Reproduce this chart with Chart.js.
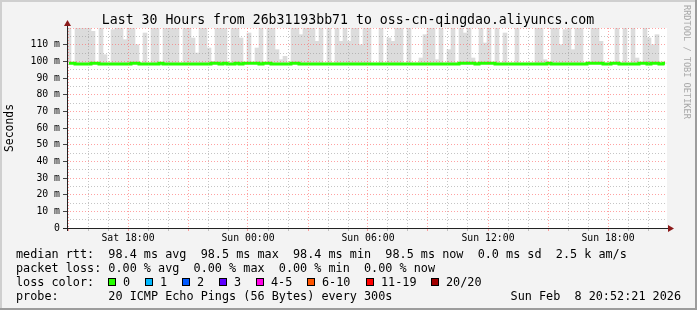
<!DOCTYPE html>
<html>
<head>
<meta charset="utf-8">
<script src="https://cdn.jsdelivr.net/npm/chart.js@4.4.1/dist/chart.umd.min.js"></script>
<style>
html, body { margin: 0; padding: 0; background: #f3f3f3; }
#wrap { width: 697px; height: 310px; }
</style>
</head>
<body>
<div id="wrap"><canvas id="graph" width="697" height="310"></canvas></div>
<script>
// Data
// one sample column per 12 minutes, first column starts Sat 14:57
const START_HOUR = 14.95;
const STEP_HOUR = 0.2;

// top of the smoke for each column (ms), 120 = above the visible range
const smokeTop = [
    120, 99, 120, 120, 120, 120, 118, 99, 120, 104, 99, 119, 120, 120, 113, 120, 120, 110, 99, 117, 99, 120, 120, 99, 120,
    120, 120, 120, 99, 120, 120, 114, 105, 120, 120, 108, 100, 120, 120, 120, 99, 120, 120, 114, 99, 117, 99, 108, 120, 99,
    120, 120, 107, 101, 103, 99, 120, 120, 116, 120, 120, 120, 112, 120, 99, 120, 99, 120, 112, 120, 112, 120, 120, 110, 120,
    120, 99, 99, 120, 99, 114, 112, 120, 120, 99, 120, 99, 99, 102, 116, 120, 120, 101, 120, 99, 107, 120, 99, 120, 117,
    120, 102, 99, 120, 111, 120, 99, 120, 99, 117, 99, 99, 120, 99, 99, 99, 99, 120, 120, 101, 99, 120, 120, 110, 119,
    120, 107, 120, 120, 99, 99, 120, 120, 112, 99, 99, 99, 120, 99, 120, 99, 120, 102, 99, 120, 114, 110, 116, 99, 99
];

// median rtt for each column (ms)
const medianRtt = [
    98.9, 98.9, 98.4, 98.4, 98.4, 98.4, 98.9, 98.9, 98.4, 98.4, 98.4, 98.4, 98.4, 98.4, 98.4, 98.4, 98.9, 98.9, 98.4, 98.4, 98.4, 98.4, 98.4, 98.9, 98.4,
    98.4, 98.4, 98.4, 98.4, 98.4, 98.4, 98.4, 98.4, 98.4, 98.4, 98.4, 98.9, 98.9, 98.4, 98.9, 98.4, 98.4, 98.9, 98.4, 98.9, 98.9, 98.9, 98.9, 98.4, 98.9,
    98.9, 98.4, 98.4, 98.4, 98.4, 98.4, 98.9, 98.9, 98.4, 98.4, 98.4, 98.4, 98.4, 98.4, 98.4, 98.4, 98.4, 98.4, 98.4, 98.4, 98.4, 98.4, 98.4, 98.4, 98.4,
    98.4, 98.4, 98.4, 98.4, 98.4, 98.4, 98.4, 98.4, 98.4, 98.4, 98.4, 98.4, 98.4, 98.4, 98.4, 98.4, 98.4, 98.4, 98.4, 98.4, 98.4, 98.4, 98.4, 98.9, 98.9,
    98.9, 98.9, 98.4, 98.9, 98.9, 98.9, 98.9, 98.4, 98.4, 98.4, 98.4, 98.4, 98.4, 98.4, 98.4, 98.4, 98.4, 98.4, 98.4, 98.4, 98.9, 98.4, 98.4, 98.4, 98.4,
    98.4, 98.4, 98.4, 98.4, 98.4, 98.9, 98.9, 98.9, 98.9, 98.4, 98.4, 98.9, 98.9, 98.4, 98.4, 98.4, 98.4, 98.4, 98.9, 98.9, 98.4, 98.9, 98.9, 98.4, 98.9
];

// x axis: hour grid (hours since Sat 00:00) and labelled hours
const xGridHours = [15, 16, 17, 18, 19, 20, 21, 22, 23, 24, 25, 26, 27, 28, 29, 30,
    31, 32, 33, 34, 35, 36, 37, 38, 39, 40, 41, 42, 43, 44];
const xLabelHours = [18, 24, 30, 36, 42];
const xLabels = ['Sat 18:00', 'Sun 00:00', 'Sun 06:00', 'Sun 12:00', 'Sun 18:00'];

const titleText = 'Last 30 Hours from 26b31193bb71 to oss-cn-qingdao.aliyuncs.com';
const legendLines = [
    'median rtt:  98.4 ms avg  98.5 ms max  98.4 ms min  98.5 ms now  0.0 ms sd  2.5 k am/s',
    'packet loss: 0.00 % avg  0.00 % max  0.00 % min  0.00 % now',
    'loss color:',
    'probe:       20 ICMP Echo Pings (56 Bytes) every 300s'
];
const lossLabels = ['0', '1', '2', '3', '4-5', '6-10', '11-19', '20/20'];
const lossColors = ['#26ff00', '#00b8ff', '#0059ff', '#5e00ff', '#ff00e5', '#ff5500', '#ff0000', '#a10000'];
const lossBoxX = [108, 145, 182, 219, 256, 307, 366, 431];
const dateText = 'Sun Feb  8 20:52:21 2026';

const MONO = '"DejaVu Sans Mono", monospace';

// build datasets
const colTime = (i) => START_HOUR + STEP_HOUR * i + STEP_HOUR / 2;
const smokeData = smokeTop.map((top, i) => ({ x: colTime(i), y: [medianRtt[i], top] }));
const medianData = medianRtt.map((v, i) => ({ x: colTime(i), y: v }));

// background, frame and all the rrdtool text
const rrdFrame = {
    id: 'rrdFrame',
    beforeDraw(chart) {
        const { ctx, chartArea: a, width, height } = chart;
        ctx.save();
        ctx.fillStyle = '#f3f3f3';
        ctx.fillRect(0, 0, width, height);
        ctx.fillStyle = '#cfcfcf';
        ctx.fillRect(0, 0, width, 2);
        ctx.fillRect(0, 0, 2, height);
        ctx.fillStyle = '#9c9c9c';
        ctx.fillRect(0, height - 2, width, 2);
        ctx.fillRect(width - 2, 0, 2, height);
        ctx.fillStyle = '#ffffff';
        ctx.fillRect(a.left, a.top, a.right - a.left, a.bottom - a.top);
        ctx.restore();
    },
    afterDraw(chart) {
        const { ctx, chartArea: a } = chart;
        ctx.save();
        // axes with arrows
        ctx.strokeStyle = '#222';
        ctx.lineWidth = 1;
        ctx.beginPath();
        ctx.moveTo(a.left + 0.5, a.bottom + 3);
        ctx.lineTo(a.left + 0.5, a.top - 4);
        ctx.moveTo(a.left - 4, a.bottom + 0.5);
        ctx.lineTo(a.right + 2, a.bottom + 0.5);
        ctx.stroke();
        ctx.fillStyle = '#8b1a1a';
        ctx.beginPath();
        ctx.moveTo(a.left - 3, a.top - 2);
        ctx.lineTo(a.left + 4, a.top - 2);
        ctx.lineTo(a.left + 0.5, a.top - 8);
        ctx.closePath();
        ctx.fill();
        ctx.beginPath();
        ctx.moveTo(a.right + 1, a.bottom - 3);
        ctx.lineTo(a.right + 1, a.bottom + 4);
        ctx.lineTo(a.right + 7, a.bottom + 0.5);
        ctx.closePath();
        ctx.fill();

        // title
        ctx.fillStyle = '#000';
        ctx.font = '13.2px ' + MONO;
        ctx.textAlign = 'center';
        ctx.textBaseline = 'alphabetic';
        ctx.fillText(titleText, 348, 24);

        // legend
        ctx.font = '11.8px ' + MONO;
        ctx.textAlign = 'left';
        const baselines = [258, 272, 286, 300];
        legendLines.forEach((t, i) => ctx.fillText(t, 16, baselines[i]));
        lossLabels.forEach((lab, i) => {
            const x = lossBoxX[i];
            ctx.fillStyle = lossColors[i];
            ctx.fillRect(x, 278, 8, 8);
            ctx.strokeStyle = '#000';
            ctx.strokeRect(x + 0.5, 278.5, 7, 7);
            ctx.fillStyle = '#000';
            ctx.fillText(lab, x + 15, 286);
        });
        ctx.textAlign = 'right';
        ctx.fillText(dateText, 681, 300);

        // watermark
        ctx.translate(686, 5);
        ctx.rotate(Math.PI / 2);
        ctx.font = '8.6px ' + MONO;
        ctx.fillStyle = '#a8a8a8';
        ctx.textAlign = 'left';
        ctx.textBaseline = 'middle';
        ctx.fillText('RRDTOOL / TOBI OETIKER', 0, 0);
        ctx.restore();
    }
};

const chart = new Chart(document.getElementById('graph'), {
    type: 'bar',
    data: {
        datasets: [{
            label: 'median',
            type: 'line',
            data: medianData,
            borderColor: '#26ff00',
            borderWidth: 3,
            pointRadius: 0,
            stepped: 'middle',
            order: 0
        }, {
            label: 'smoke',
            data: smokeData,
            backgroundColor: '#dcdcdc',
            borderWidth: 0,
            barPercentage: 1,
            categoryPercentage: 1,
            order: 1
        }]
    },
    options: {
        responsive: false,
        animation: false,
        layout: { padding: { top: 28, right: 30, bottom: 62, left: 0 } },
        plugins: {
            legend: { display: false },
            tooltip: { enabled: false }
        },
        scales: {
            x: {
                type: 'linear',
                min: START_HOUR,
                max: START_HOUR + STEP_HOUR * smokeTop.length,
                offset: false,
                afterBuildTicks(scale) {
                    scale.ticks = xGridHours.map(v => ({ value: v }));
                },
                afterFit(scale) { scale.height = 20; },
                ticks: {
                    autoSkip: false,
                    maxRotation: 0,
                    padding: 2,
                    color: '#000',
                    font: { family: MONO, size: 9.8 },
                    callback(v) {
                        const k = xLabelHours.indexOf(v);
                        return k >= 0 ? xLabels[k] : '';
                    }
                },
                grid: {
                    z: 1,
                    offset: false,
                    tickLength: 3,
                    color: (c) => (c.tick && c.tick.value % 3 === 0) ? 'rgba(255,100,100,0.6)' : 'rgba(150,150,150,0.55)'
                },
                border: { display: false, dash: [1, 2] }
            },
            y: {
                min: 0,
                max: 120,
                afterFit(scale) { scale.width = 67; },
                ticks: {
                    stepSize: 5,
                    autoSkip: false,
                    padding: 3,
                    color: '#000',
                    font: { family: MONO, size: 9.8 },
                    callback(v) {
                        if (v % 10 !== 0 || v >= 120) return '';
                        return v === 0 ? '0' : v + ' m';
                    }
                },
                grid: {
                    z: 1,
                    tickLength: 4,
                    color: (c) => (c.tick && c.tick.value % 10 === 0) ? 'rgba(255,100,100,0.6)' : 'rgba(150,150,150,0.55)',
                    tickColor: (c) => (c.tick && c.tick.value % 10 === 0 && c.tick.value < 120) ? '#444' : 'rgba(0,0,0,0)'
                },
                border: { display: false, dash: [1, 2] },
                title: {
                    display: true,
                    text: 'Seconds',
                    color: '#000',
                    padding: { top: 3, bottom: 0 },
                    font: { family: MONO, size: 11.4 }
                }
            }
        }
    },
    plugins: [rrdFrame]
});
</script>
</body>
</html>
